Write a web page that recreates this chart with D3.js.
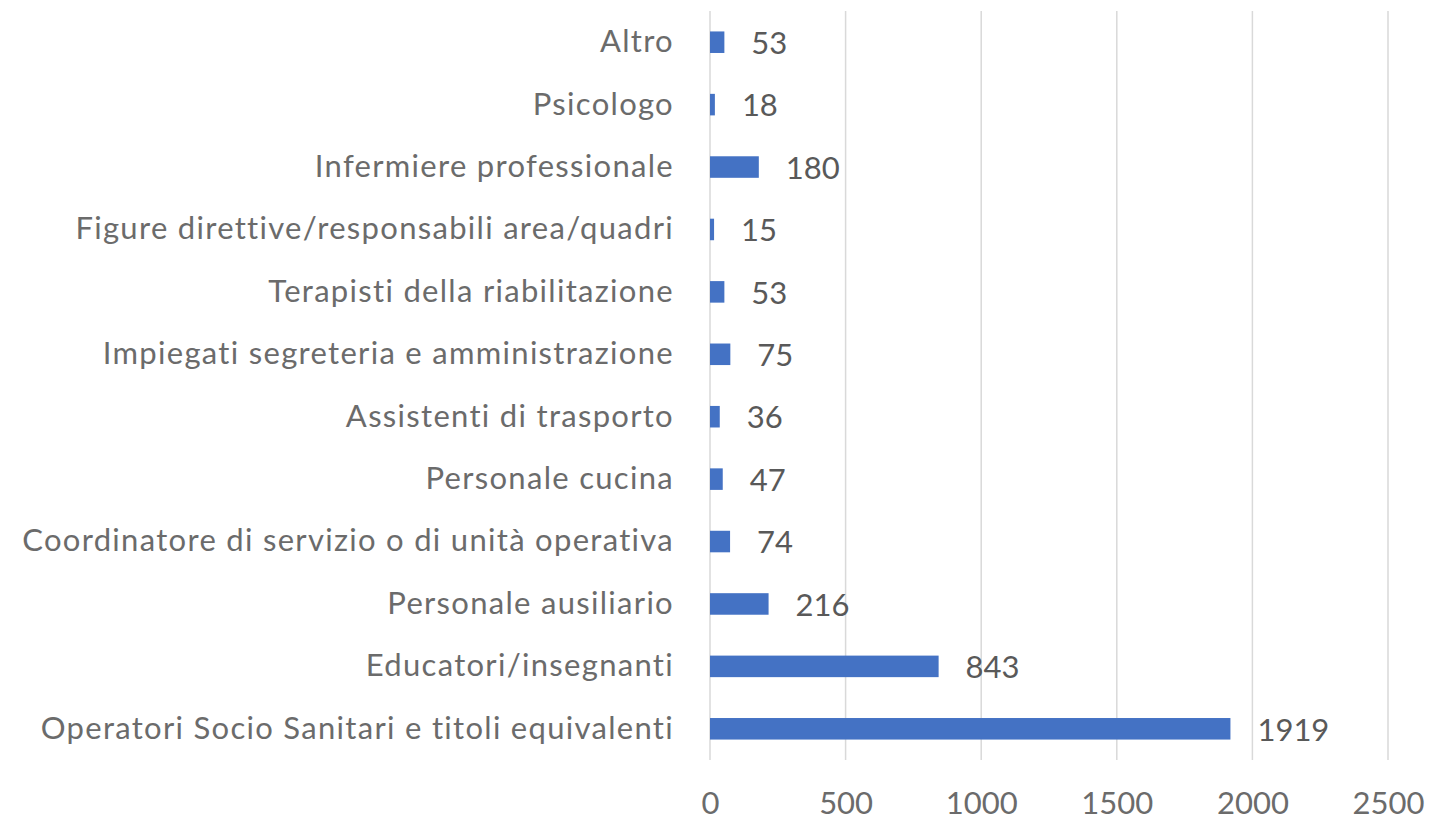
<!DOCTYPE html>
<html>
<head>
<meta charset="utf-8">
<script src="https://cdn.jsdelivr.net/npm/d3@7"></script>
<style>
  body { margin: 0; background: #fff; }
  text { font-family: Lato, "Open Sans", sans-serif; }
</style>
</head>
<body>
<div id="chart"></div>
<script>
// categories top to bottom, as shown
const categories = [
  "Altro",
  "Psicologo",
  "Infermiere professionale",
  "Figure direttive/responsabili area/quadri",
  "Terapisti della riabilitazione",
  "Impiegati segreteria e amministrazione",
  "Assistenti di trasporto",
  "Personale cucina",
  "Coordinatore di servizio o di unità operativa",
  "Personale ausiliario",
  "Educatori/insegnanti",
  "Operatori Socio Sanitari e titoli equivalenti"
];
const values = [53, 18, 180, 15, 53, 75, 36, 47, 74, 216, 843, 1919];
const xTicks = [0, 500, 1000, 1500, 2000, 2500];

const width = 1434, height = 825;
const margin = {top: 11, right: 46, bottom: 65, left: 710};

const svg = d3.select("#chart")
  .append("svg")
  .attr("width", width)
  .attr("height", height);

const xScale = d3.scaleLinear()
  .domain([0, 2500])
  .range([margin.left, width - margin.right]);

const yScale = d3.scaleBand()
  .domain(categories)
  .range([margin.top, height - margin.bottom])
  .paddingInner(0.655)
  .paddingOuter(0.3275);

// gridlines
svg.append("g")
  .selectAll("line")
  .data(xTicks)
  .enter()
  .append("line")
    .attr("x1", d => xScale(d))
    .attr("x2", d => xScale(d))
    .attr("y1", margin.top)
    .attr("y2", height - margin.bottom)
    .attr("stroke", "#d9d9d9")
    .attr("stroke-width", 1.5);

// bars
svg.append("g")
  .selectAll("rect")
  .data(values)
  .enter()
  .append("rect")
    .attr("x", xScale(0))
    .attr("y", (d, i) => yScale(categories[i]))
    .attr("width", d => xScale(d) - xScale(0))
    .attr("height", yScale.bandwidth())
    .attr("fill", "#4472c4");

// value labels
svg.append("g")
  .selectAll("text")
  .data(values)
  .enter()
  .append("text")
    .attr("x", d => xScale(d) + 27)
    .attr("y", (d, i) => yScale(categories[i]) + yScale.bandwidth() / 2)
    .attr("dy", "0.38em")
    .attr("font-size", "31px")
    .attr("fill", "#595959")
    .text(d => d);

// category axis (labels only)
const yAxis = svg.append("g")
  .attr("transform", `translate(${margin.left - 36}, 0)`)
  .call(d3.axisLeft(yScale).tickSize(0).tickPadding(0));
yAxis.select(".domain").remove();
yAxis.selectAll("text")
  .attr("font-size", "31px")
  .attr("font-family", "Lato, 'Open Sans', sans-serif")
  .attr("letter-spacing", "1.3px")
  .attr("fill", "#6b6b6b");

// value axis
const xAxis = svg.append("g")
  .attr("transform", `translate(0, ${height - margin.bottom})`)
  .call(d3.axisBottom(xScale).tickValues(xTicks).tickFormat(d3.format("d"))
    .tickSize(0).tickPadding(32));
xAxis.select(".domain").remove();
xAxis.selectAll("text")
  .attr("font-size", "31px")
  .attr("font-family", "Lato, 'Open Sans', sans-serif")
  .attr("fill", "#6b6b6b");
</script>
</body>
</html>
